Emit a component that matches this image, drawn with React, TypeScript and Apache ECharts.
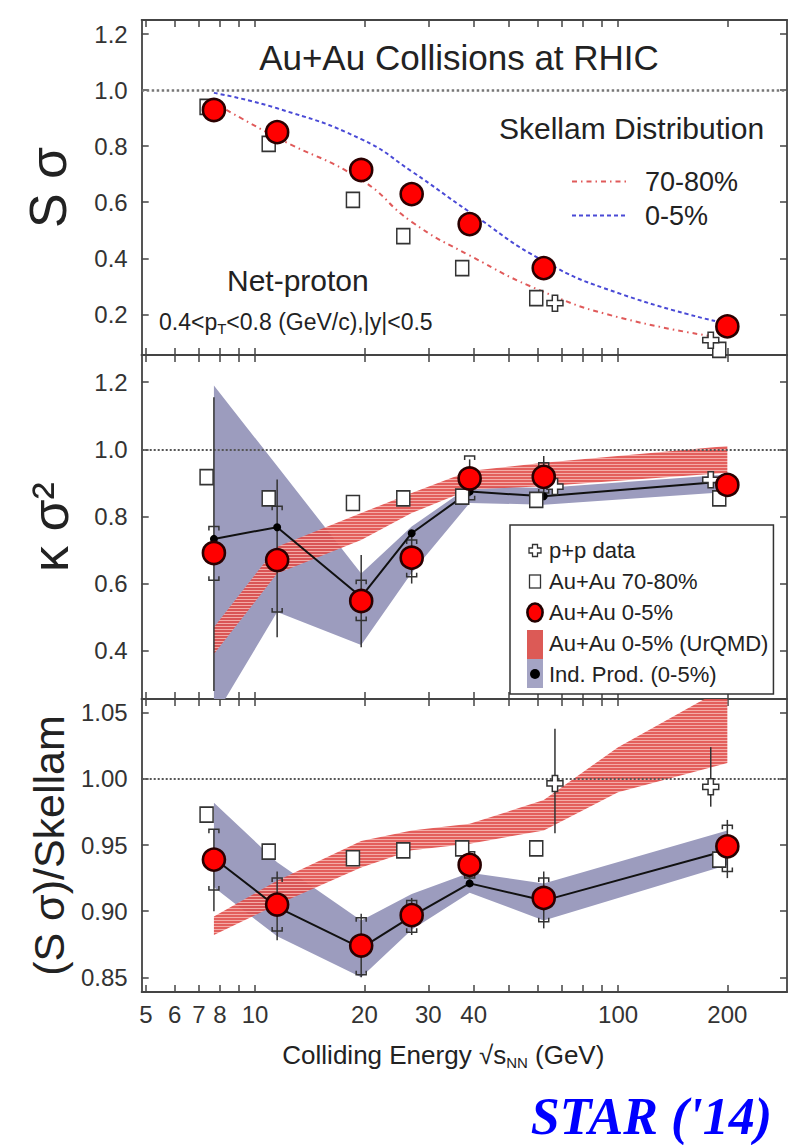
import React, { useEffect, useRef } from "react";
import * as echarts from "echarts";

const FONT = "'Liberation Sans', Arial, Helvetica, sans-serif";

// ---------- shared x values ----------
const energies = [7.7, 11.5, 19.6, 27, 39, 62.4, 200];
const periphEnergies = [7.35, 10.9, 18.6, 25.6, 37.2, 59.5, 190];
const ppEnergies = [67, 180];
const xTickValues = [5, 6, 7, 8, 9, 10, 20, 30, 40, 50, 60, 70, 80, 90, 100, 200];
const xLabelValues = [5, 6, 7, 8, 10, 20, 30, 40, 100, 200];

// ---------- panel 1 : S sigma ----------
const ssTicks = [0.2, 0.4, 0.6, 0.8, 1.0, 1.2];
const ssCentral = [0.929, 0.85, 0.715, 0.629, 0.522, 0.365, 0.157];
const ssPeriph = [0.94, 0.808, 0.608, 0.479, 0.365, 0.258, 0.073];
const ssPP = [0.24, 0.108];
const skellamEnergies = [7.7, 11.5, 19.6, 27, 39, 62.4, 100, 185];
const skellamCentral = [0.99, 0.935, 0.825, 0.71, 0.565, 0.39, 0.276, 0.176];
const skellamPeriph = [0.955, 0.83, 0.68, 0.53, 0.41, 0.28, 0.19, 0.12];

// ---------- panel 2 : kappa sigma^2 ----------
const ksTicks = [0.4, 0.6, 0.8, 1.0, 1.2];
const ksCentral = [0.691, 0.67, 0.548, 0.677, 0.913, 0.918, 0.894];
const ksStatLo = [0.28, 0.44, 0.41, 0.6, 0.86, 0.85, 0.865];
const ksStatHi = [1.155, 0.91, 0.685, 0.74, 0.97, 0.98, 0.925];
const ksSysLo = [0.61, 0.515, 0.49, 0.62, 0.85, 0.87, 0.87];
const ksSysHi = [0.77, 0.83, 0.61, 0.73, 0.98, 0.96, 0.92];
const ksPeriph = [0.917, 0.854, 0.84, 0.854, 0.859, 0.849, 0.854];
const ksPP = [0.889, 0.909];
const ksIndProd = [0.733, 0.768, 0.56, 0.75, 0.874, 0.86, 0.905];
const ksIndProdLo = [0.2, 0.515, 0.417, 0.632, 0.84, 0.835, 0.873];
const ksIndProdHi = [1.19, 0.95, 0.63, 0.77, 0.89, 0.885, 0.925];
const ksUrqmdLo = [0.39, 0.63, 0.73, 0.81, 0.88, 0.89, 0.93];
const ksUrqmdHi = [0.47, 0.71, 0.81, 0.87, 0.935, 0.96, 1.01];

// ---------- panel 3 : (S sigma)/Skellam ----------
const rTicks = [0.85, 0.9, 0.95, 1.0, 1.05];
const rCentral = [0.939, 0.905, 0.874, 0.897, 0.935, 0.91, 0.949];
const rStatLo = [0.9, 0.878, 0.85, 0.882, 0.925, 0.887, 0.925];
const rStatHi = [0.962, 0.93, 0.898, 0.91, 0.945, 0.93, 0.969];
const rSysLo = [0.916, 0.885, 0.852, 0.884, 0.925, 0.892, 0.93];
const rSysHi = [0.962, 0.925, 0.895, 0.908, 0.945, 0.925, 0.965];
const rPeriph = [0.973, 0.945, 0.94, 0.946, 0.9475, 0.9475, 0.939];
const rPP = [0.9966, 0.994];
const rPPLo = [0.959, 0.979];
const rPPHi = [1.038, 1.024];
const rIndProd = [0.94, 0.903, 0.872, 0.896, 0.921, 0.908, 0.946];
const rIndProdLo = [0.918, 0.881, 0.85, 0.886, 0.914, 0.893, 0.935];
const rIndProdHi = [0.982, 0.937, 0.893, 0.913, 0.929, 0.921, 0.961];
const rUrqmdEnergies = [7.7, 11.5, 19.6, 27, 39, 62.4, 100, 200];
const rUrqmdLo = [0.882, 0.905, 0.933, 0.946, 0.951, 0.961, 0.99, 1.012];
const rUrqmdHi = [0.896, 0.923, 0.953, 0.961, 0.966, 0.984, 1.024, 1.07];

// ---------- helpers ----------
const pts = (xs: number[], ys: number[]) => xs.map((x, i) => [x, ys[i]]);

const svgUrl = (svg: string) => "image://data:image/svg+xml;charset=utf-8," + encodeURIComponent(svg);
const SVGNS = 'xmlns="http://www.w3.org/2000/svg" width="18" height="31" viewBox="0 0 18 31"';
const iconPlus = svgUrl(`<svg ${SVGNS}><path d="M6.5 9.5H11.5V13H15V18H11.5V21.5H6.5V18H3V13H6.5Z" fill="#fff" stroke="#333" stroke-width="1.3"/></svg>`);
const iconSquare = svgUrl(`<svg ${SVGNS}><rect x="3.5" y="9" width="11" height="13" fill="#fff" stroke="#333" stroke-width="1.3"/></svg>`);
const iconCircle = svgUrl(`<svg ${SVGNS}><ellipse cx="9" cy="15.5" rx="7.6" ry="9" fill="#ff0000" stroke="#220000" stroke-width="2.6"/></svg>`);
const iconUrqmd = svgUrl(`<svg ${SVGNS}><rect x="1" y="2" width="16" height="29" fill="#dc5a56"/></svg>`);
const iconInd = svgUrl(`<svg ${SVGNS}><rect x="1" y="0" width="16" height="29" fill="#a4a4c4"/><circle cx="9" cy="15" r="5" fill="#000"/></svg>`);
const LNS = 'xmlns="http://www.w3.org/2000/svg" width="56" height="14" viewBox="0 0 56 14"';
const iconRedDashDot = svgUrl(`<svg ${LNS}><line x1="0" y1="7" x2="56" y2="7" stroke="#e05a5a" stroke-width="2" stroke-dasharray="5 4 1.5 4"/></svg>`);
const iconBlueDash = svgUrl(`<svg ${LNS}><line x1="0" y1="7" x2="56" y2="7" stroke="#4a4ad6" stroke-width="2" stroke-dasharray="4 3"/></svg>`);

const PLUS = "path://M4,0H8V4H12V8H8V12H4V8H0V4H4Z";

function makeHatch() {
  const c = document.createElement("canvas");
  c.width = 4;
  c.height = 3;
  const ctx = c.getContext("2d")!;
  ctx.fillStyle = "rgba(224,78,74,0.9)";
  ctx.fillRect(0, 0, 4, 3);
  ctx.fillStyle = "rgba(246,180,176,0.9)";
  ctx.fillRect(0, 2, 4, 1);
  return c;
}

export default function App() {
  const ref = useRef<HTMLDivElement>(null);

  useEffect(() => {
    if (!ref.current) return;
    const chart = echarts.init(ref.current, undefined, { renderer: "svg" });
    const hatch = makeHatch();
    const redFill: any = { image: hatch, repeat: "repeat" };
    const grayFill = "#9c9cbe";

    const xAxis = (gi: number, pos: string, showLabels: boolean, name?: string): any => ({
      type: "log",
      logBase: 10,
      gridIndex: gi,
      position: pos,
      min: 4.87,
      max: 292,
      name: name || "",
      nameLocation: "middle",
      nameGap: 48,
      nameTextStyle: {
        fontSize: 26,
        color: "#222",
        fontFamily: FONT,
        lineHeight: 30,
        padding: [0, 42, 0, 0],
        rich: {
          s: { fontSize: 26, fontFamily: FONT, color: "#222" },
          nn: { fontSize: 15, fontFamily: FONT, color: "#222", lineHeight: 15, verticalAlign: "bottom" },
        },
      },
      axisLine: { show: true, onZero: false, lineStyle: { color: "#444", width: 2 } },
      axisTick: { show: true, inside: true, length: 7, customValues: xTickValues, lineStyle: { color: "#444", width: 1.5 } },
      axisLabel: { show: showLabels, customValues: xLabelValues, fontSize: 24, color: "#333", margin: 10, fontFamily: FONT },
      splitLine: { show: false },
      minorTick: { show: false },
    });

    const yAxis = (
      gi: number,
      pos: string,
      min: number,
      max: number,
      ticks: number[],
      dec: number,
      showLabels: boolean,
      name?: string,
      nameGap?: number,
      nameSize?: number
    ): any => ({
      type: "value",
      gridIndex: gi,
      position: pos,
      min,
      max,
      name: name || "",
      nameLocation: "middle",
      nameRotate: 90,
      nameGap: nameGap || 60,
      nameTextStyle: { fontSize: nameSize || 40, color: "#222", fontFamily: FONT },
      axisLine: { show: true, onZero: false, lineStyle: { color: "#555", width: 2 } },
      axisTick: { show: true, inside: true, length: 7, customValues: ticks, lineStyle: { color: "#444", width: 1.5 } },
      axisLabel: {
        show: showLabels,
        customValues: ticks,
        formatter: (v: number) => Number(v).toFixed(dec),
        fontSize: 24,
        color: "#333",
        margin: 14,
        fontFamily: FONT,
      },
      splitLine: { show: false },
    });

    const refLine = (w: number, color: string) => ({
      silent: true,
      symbol: ["none", "none"],
      label: { show: false },
      lineStyle: { type: "dotted", color, width: w },
      data: [{ yAxis: 1 }],
    });

    // band drawn as one polygon through the axis scales
    const band = (name: string, xs: number[], lo: number[], hi: number[], ai: number, fill: any, z: number): any => ({
      type: "custom",
      name,
      xAxisIndex: ai * 2,
      yAxisIndex: ai * 2,
      clip: true,
      silent: true,
      z,
      data: xs.map((x, i) => [x, lo[i], hi[i]]),
      renderItem: (params: any, api: any) => {
        if (params.dataIndex !== 0) return null;
        const upper = xs.map((x, i) => api.coord([x, hi[i]]));
        const lower = xs.map((x, i) => api.coord([x, lo[i]])).reverse();
        return { type: "polygon", shape: { points: upper.concat(lower) }, style: { fill } };
      },
    });

    const errBars = (xs: number[], lo: number[], hi: number[], ai: number, kind: "line" | "bracket", z: number): any => ({
      type: "custom",
      xAxisIndex: ai * 2,
      yAxisIndex: ai * 2,
      silent: true,
      z,
      data: xs.map((x, i) => [x, lo[i], hi[i]]),
      renderItem: (_p: any, api: any) => {
        const x = api.value(0);
        const a = api.coord([x, api.value(1)]);
        const b = api.coord([x, api.value(2)]);
        if (kind === "line") {
          return {
            type: "line",
            shape: { x1: a[0], y1: a[1], x2: b[0], y2: b[1] },
            style: { stroke: "#333", lineWidth: 1.5 },
          };
        }
        const w = 5;
        const h = 4;
        return {
          type: "group",
          children: [
            {
              type: "polyline",
              shape: { points: [[a[0] - w, a[1] - h], [a[0] - w, a[1]], [a[0] + w, a[1]], [a[0] + w, a[1] - h]] },
              style: { stroke: "#333", fill: "none", lineWidth: 1.5 },
            },
            {
              type: "polyline",
              shape: { points: [[b[0] - w, b[1] + h], [b[0] - w, b[1]], [b[0] + w, b[1]], [b[0] + w, b[1] + h]] },
              style: { stroke: "#333", fill: "none", lineWidth: 1.5 },
            },
          ],
        };
      },
    });

    const squares = (ys: number[], ai: number): any => ({
      type: "scatter",
      name: "Au+Au 70-80%",
      data: pts(periphEnergies, ys),
      xAxisIndex: ai * 2,
      yAxisIndex: ai * 2,
      symbol: "rect",
      symbolSize: [13, 15],
      itemStyle: { color: "#fff", borderColor: "#333", borderWidth: 1.6, opacity: 1 },
      z: 6,
    });
    const crosses = (ys: number[], ai: number): any => ({
      type: "scatter",
      name: "p+p data",
      data: pts(ppEnergies, ys),
      xAxisIndex: ai * 2,
      yAxisIndex: ai * 2,
      symbol: PLUS,
      symbolSize: 16,
      itemStyle: { color: "#fff", borderColor: "#333", borderWidth: 1.5, opacity: 1 },
      z: 7,
    });
    const circles = (ys: number[], ai: number): any => ({
      type: "scatter",
      name: "Au+Au 0-5%",
      data: pts(energies, ys),
      xAxisIndex: ai * 2,
      yAxisIndex: ai * 2,
      symbol: "circle",
      symbolSize: 22,
      itemStyle: { color: "#ff0000", borderColor: "#2a0000", borderWidth: 2.6, opacity: 1 },
      z: 9,
    });
    const indLine = (ys: number[], ai: number): any => ({
      type: "line",
      name: "Ind. Prod. (0-5%)",
      data: pts(energies, ys),
      xAxisIndex: ai * 2,
      yAxisIndex: ai * 2,
      symbol: "circle",
      symbolSize: 8,
      showSymbol: true,
      itemStyle: { color: "#000" },
      lineStyle: { color: "#111", width: 2 },
      markLine: refLine(2, "#555"),
      z: 5,
    });

    const option: any = {
      animation: false,
      backgroundColor: "#fff",
      grid: [
        { left: 141.7, top: 20, width: 645.3, height: 335 },
        { left: 141.7, top: 355, width: 645.3, height: 344 },
        { left: 141.7, top: 699, width: 645.3, height: 293 },
      ],
      xAxis: [
        xAxis(0, "bottom", false),
        xAxis(0, "top", false),
        xAxis(1, "bottom", false),
        xAxis(1, "top", false),
        xAxis(2, "bottom", true, "Colliding Energy √{s|s}{nn|NN} (GeV)"),
        xAxis(2, "top", false),
      ],
      yAxis: [
        yAxis(0, "left", 0.055, 1.25, ssTicks, 1, true, "S σ", 68, 52),
        yAxis(0, "right", 0.055, 1.25, ssTicks, 1, false),
        yAxis(1, "left", 0.256, 1.281, ksTicks, 1, true, "κ σ²", 66, 52),
        yAxis(1, "right", 0.256, 1.281, ksTicks, 1, false),
        yAxis(2, "left", 0.8389, 1.0604, rTicks, 2, true, "(S σ)/Skellam", 70, 43),
        yAxis(2, "right", 0.8389, 1.0604, rTicks, 2, false),
      ],
      legend: [
        {
          data: [
            { name: "p+p data", icon: iconPlus },
            { name: "Au+Au 70-80%", icon: iconSquare },
            { name: "Au+Au 0-5%", icon: iconCircle },
            { name: "Au+Au 0-5% (UrQMD)", icon: iconUrqmd },
            { name: "Ind. Prod. (0-5%)", icon: iconInd },
          ],
          orient: "vertical",
          left: 510,
          top: 525,
          padding: [10, 5, 4, 16],
          itemGap: 0,
          itemWidth: 18,
          itemHeight: 31,
          borderColor: "#333",
          borderWidth: 1.5,
          backgroundColor: "#fff",
          textStyle: { fontSize: 22, color: "#222", fontFamily: FONT },
          selectedMode: false,
          z: 20,
        },
        {
          data: [
            { name: "70-80%", icon: iconRedDashDot },
            { name: "0-5%", icon: iconBlueDash },
          ],
          orient: "vertical",
          left: 572,
          top: 168,
          padding: 0,
          itemWidth: 56,
          itemHeight: 14,
          itemGap: 7,
          textStyle: { fontSize: 27, color: "#222", fontFamily: FONT, padding: [0, 0, 0, 12] },
          selectedMode: false,
          z: 20,
        },
      ],
      graphic: [
        {
          type: "text",
          x: 459,
          y: 57,
          style: { text: "Au+Au Collisions at RHIC", fontSize: 35, fontFamily: FONT, fill: "#222", align: "center", verticalAlign: "middle" },
        },
        {
          type: "text",
          x: 499,
          y: 128,
          style: { text: "Skellam Distribution", fontSize: 30, fontFamily: FONT, fill: "#222", align: "left", verticalAlign: "middle" },
        },
        {
          type: "text",
          x: 227,
          y: 280,
          style: { text: "Net-proton", fontSize: 30, fontFamily: FONT, fill: "#222", align: "left", verticalAlign: "middle" },
        },
        {
          type: "text",
          x: 159,
          y: 322,
          style: {
            text: "0.4<p{t|T}<0.8 (GeV/c),|y|<0.5",
            fontSize: 23,
            fontFamily: FONT,
            fill: "#222",
            align: "left",
            verticalAlign: "middle",
            lineHeight: 28,
            rich: { t: { fontSize: 15, fontFamily: FONT, fill: "#222", lineHeight: 15, verticalAlign: "bottom" } },
          },
        },
        {
          type: "text",
          x: 772,
          y: 1116,
          style: {
            text: "STAR ('14)",
            fontSize: 52,
            fontFamily: "'Liberation Serif', 'Times New Roman', serif",
            fontStyle: "italic",
            fontWeight: "bold",
            fill: "#0000ff",
            align: "right",
            verticalAlign: "middle",
          },
        },
      ],
      series: [
        // ---- panel 1 ----
        {
          type: "line",
          name: "70-80%",
          data: pts(skellamEnergies, skellamPeriph),
          xAxisIndex: 0,
          yAxisIndex: 0,
          smooth: 0.5,
          symbol: "none",
          lineStyle: { color: "#e05a5a", width: 2, type: [5, 4, 1.5, 4] },
          itemStyle: { color: "#e05a5a" },
          markLine: refLine(2.5, "#777"),
          z: 3,
        },
        {
          type: "line",
          name: "0-5%",
          data: pts(skellamEnergies, skellamCentral),
          xAxisIndex: 0,
          yAxisIndex: 0,
          smooth: 0.5,
          symbol: "none",
          lineStyle: { color: "#4a4ad6", width: 2, type: [4, 3] },
          itemStyle: { color: "#4a4ad6" },
          z: 3,
        },
        squares(ssPeriph, 0),
        crosses(ssPP, 0),
        circles(ssCentral, 0),

        // ---- panel 2 ----
        band("Ind. Prod. (0-5%)", energies, ksIndProdLo, ksIndProdHi, 1, grayFill, 2),
        band("Au+Au 0-5% (UrQMD)", energies, ksUrqmdLo, ksUrqmdHi, 1, redFill, 3),
        indLine(ksIndProd, 1),
        errBars(energies, ksStatLo, ksStatHi, 1, "line", 5),
        errBars(energies, ksSysLo, ksSysHi, 1, "bracket", 5),
        squares(ksPeriph, 1),
        crosses(ksPP, 1),
        circles(ksCentral, 1),

        // ---- panel 3 ----
        band("Ind. Prod. (0-5%)", energies, rIndProdLo, rIndProdHi, 2, grayFill, 2),
        band("Au+Au 0-5% (UrQMD)", rUrqmdEnergies, rUrqmdLo, rUrqmdHi, 2, redFill, 3),
        indLine(rIndProd, 2),
        errBars(energies, rStatLo, rStatHi, 2, "line", 5),
        errBars(energies, rSysLo, rSysHi, 2, "bracket", 5),
        errBars(ppEnergies, rPPLo, rPPHi, 2, "line", 5),
        squares(rPeriph, 2),
        crosses(rPP, 2),
        circles(rCentral, 2),
      ],
    };

    chart.setOption(option);
    return () => chart.dispose();
  }, []);

  return (
    <div
      ref={ref}
      style={{ position: "absolute", left: 0, top: 0, width: 790, height: 1145, background: "#fff" }}
    />
  );
}
